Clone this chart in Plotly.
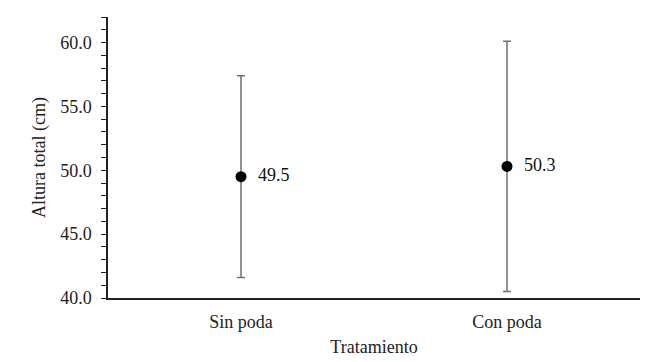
import plotly.graph_objects as go

categories = ["Sin poda", "Con poda"]
means = [49.5, 50.3]
errors = [7.9, 9.8]
labels = ["49.5", "50.3"]

font = "Liberation Serif, Times New Roman, serif"

fig = go.Figure()
fig.add_trace(go.Scatter(
    x=categories, y=means, mode="markers+text",
    text=["  " + t for t in labels], textposition="middle right",
    textfont=dict(family=font, size=18, color="#111"),
    marker=dict(color="black", size=11),
    error_y=dict(type="data", array=errors, visible=True, color="#6f6f6f", thickness=1.5, width=4),
    cliponaxis=False,
))

fig.update_layout(
    width=654, height=354,
    margin=dict(l=100, r=22, t=9, b=64),
    paper_bgcolor="white", plot_bgcolor="white",
    showlegend=False,
    font=dict(family=font, size=18, color="#222"),
    xaxis=dict(
        type="category", range=[-0.5, 1.5], showline=True, linecolor="#222", linewidth=1.5,
        ticks="", showgrid=False, zeroline=False, ticklabelstandoff=7,
        title=dict(text="Tratamiento", standoff=9, font=dict(size=18)),
    ),
    yaxis=dict(
        range=[40, 62], dtick=5, tick0=40, tickformat=".1f",
        showline=True, linecolor="#222", linewidth=1.5,
        ticks="outside", ticklen=5, tickcolor="#222", tickwidth=1.2,
        minor=dict(dtick=1, ticks="outside", ticklen=5, tickcolor="#222", tickwidth=1.2),
        showgrid=False, zeroline=False, ticklabelstandoff=6,
        title=dict(text="Altura total (cm)", standoff=10, font=dict(size=18)),
    ),
)

fig.write_html("out.html")
